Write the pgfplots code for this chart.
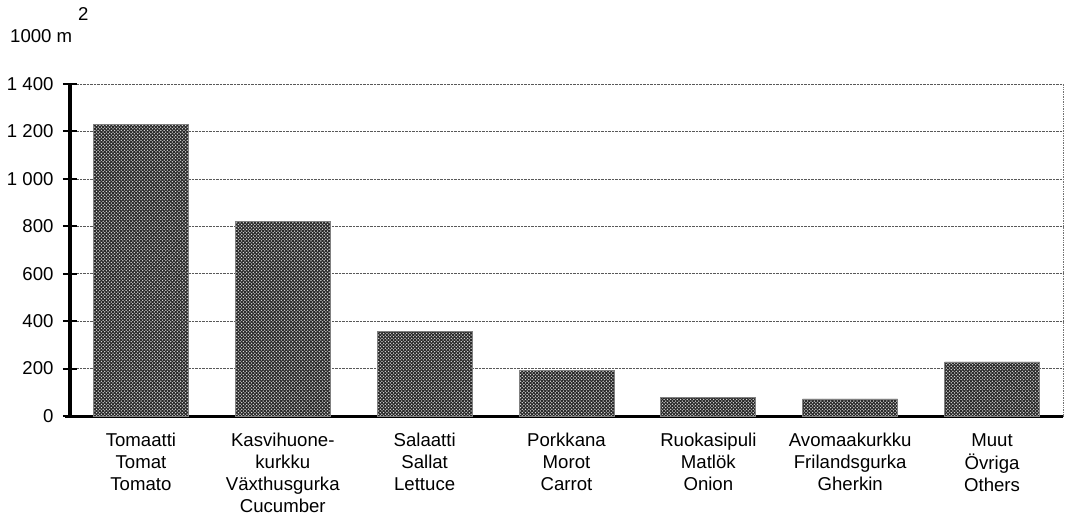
\documentclass[border=0pt]{standalone}
\usepackage{pgfplots}
\pgfplotsset{compat=1.18}
\usetikzlibrary{patterns}
\usepackage{fontspec}
\setmainfont{Liberation Sans}
\pgfdeclarepatternformonly{finedots}{\pgfqpoint{-0.5pt}{-0.5pt}}{\pgfqpoint{3.8pt}{3.8pt}}{\pgfqpoint{3.3pt}{3.3pt}}{%
  \pgfpathcircle{\pgfqpoint{0.8pt}{0.8pt}}{0.75pt}%
  \pgfpathcircle{\pgfqpoint{2.45pt}{2.45pt}}{0.75pt}%
  \pgfusepath{fill}}
\begin{document}
\begin{tikzpicture}
\begin{axis}[
  at={(0pt,0pt)}, anchor=south west,
  scale only axis, width=993pt, height=332pt,
  xmin=-0.5, xmax=6.5, ymin=0, ymax=1400,
  ytick={0,200,...,1400},
  yticklabels={0,200,400,600,800,1 000,1 200,1 400},
  xtick={0,...,6},
  xticklabels={{\strut Tomaatti\\Tomat\\Tomato},{\strut Kasvihuone-\\kurkku\\Växthusgurka\\Cucumber},{\strut Salaatti\\Sallat\\Lettuce},{\strut Porkkana\\Morot\\Carrot},{\strut Ruokasipuli\\Matlök\\Onion},{\strut Avomaakurkku\\Frilandsgurka\\Gherkin},{\strut Muut\\Övriga\\Others}},
  xticklabel style={align=center, font=\fontsize{18.6}{21.8}\selectfont, anchor=north, yshift=-5pt},
  yticklabel style={font=\fontsize{18.6}{21.8}\selectfont, xshift=-6pt},
  axis x line*=bottom, axis y line*=left,
  x axis line style={line width=3pt, shorten <=-5pt},
  y axis line style={line width=3.5pt},
  major x tick style={draw=none},
  major y tick style={line width=2pt, black},
  tick align=center, major tick length=14pt,
  ymajorgrids, grid style={densely dotted, black!65, line width=0.7pt},
  clip=false,
  after end axis/.code={
    \draw[densely dotted, black!55, line width=0.7pt] (rel axis cs:1,0) -- (rel axis cs:1,1);
    \node[anchor=base west, inner sep=0pt, font=\fontsize{18.6}{21.8}\selectfont] at ([xshift=-60pt,yshift=41pt]rel axis cs:0,1) {1000 m\hspace{6pt}\raisebox{22pt}{2}};
  },
]
\addplot[ybar, bar width=95pt, fill=black!85, draw=black!50, line width=0.8pt,
  postaction={pattern=finedots, pattern color=white!85!black}] coordinates {
  (0,1230) (1,820) (2,355) (3,193) (4,77) (5,72) (6,228)
};
\end{axis}
\pgfresetboundingbox
\path[use as bounding box] (-70pt,-103pt) rectangle (998pt,416pt);
\end{tikzpicture}
\end{document}
